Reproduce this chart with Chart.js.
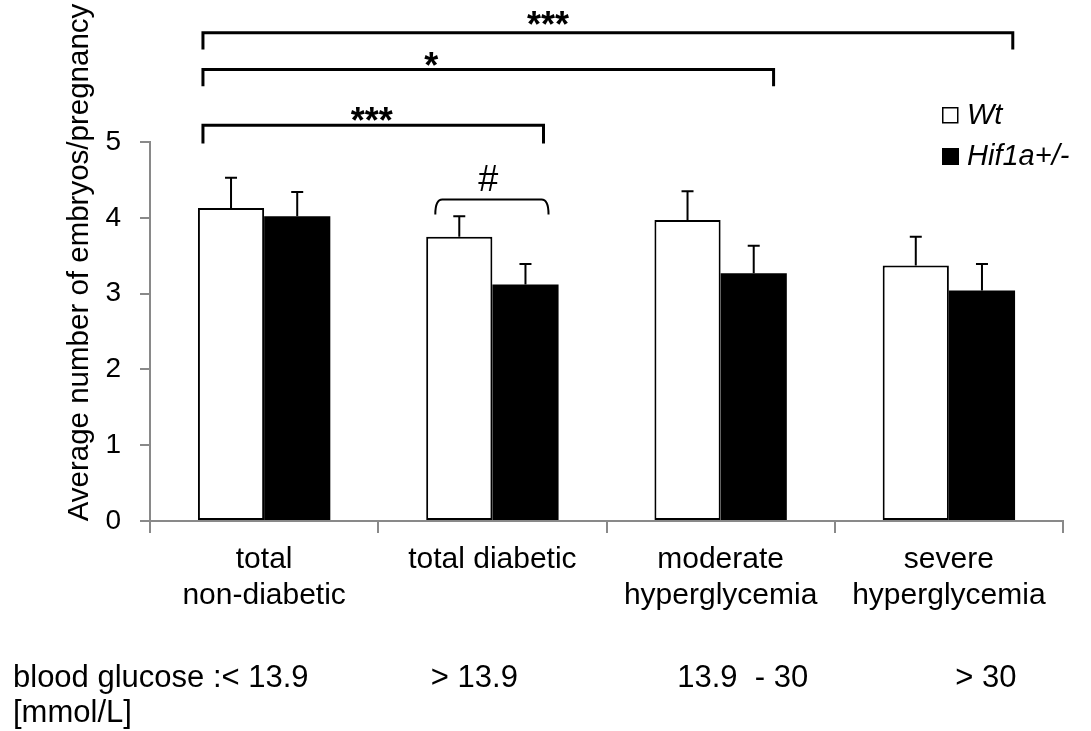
<!DOCTYPE html>
<html>
<head>
<meta charset="utf-8">
<script src="https://cdn.jsdelivr.net/npm/chart.js@4.4.0/dist/chart.umd.min.js"></script>
<style>
  html, body { margin: 0; padding: 0; background: #fff; }
</style>
</head>
<body>
<canvas id="barChart" width="1091" height="731"></canvas>
<script>
const categories = [['total', 'non-diabetic'], 'total diabetic', ['moderate', 'hyperglycemia'], ['severe', 'hyperglycemia']];
const seriesNames = ['Wt', 'Hif1a+/-'];
const wtMeans = [4.13, 3.75, 3.97, 3.37];
const wtErrors = [0.40, 0.27, 0.38, 0.38];
const hifMeans = [4.02, 3.12, 3.27, 3.04];
const hifErrors = [0.32, 0.27, 0.36, 0.35];
const yTicks = [0, 1, 2, 3, 4, 5];
const yTitle = 'Average number of embryos/pregnancy';
const glucoseLabels = ['blood glucose :< 13.9', '> 13.9', '13.9  - 30', '> 30'];
const glucoseUnit = '[mmol/L]';
// significance between groups (category index from -> to)
const brackets = [
  { from: 0, to: 3, label: '***' },
  { from: 0, to: 2, label: '*' },
  { from: 0, to: 1, label: '***' }
];
const withinMark = { category: 1, label: '#' };

const FONT = "'Liberation Sans', Arial, Helvetica, sans-serif";
const AXIS_GREY = '#898989';

// bracket drawing styles (level in y units, ends as fraction of category width)
const bracketStyle = [
  { level: 6.44, drop: 0.22, left: -0.268, right: 0.28, textAt: 0.426, textLevel: 6.66 },
  { level: 5.955, drop: 0.22, left: -0.268, right: 0.232, textAt: 0.40, textLevel: 6.12 },
  { level: 5.22, drop: 0.24, left: -0.268, right: 0.224, textAt: 0.496, textLevel: 5.40 }
];

const extras = {
  id: 'extras',
  afterDatasetsDraw(chart) {
    const ctx = chart.ctx;
    const y = chart.scales.y;
    ctx.save();
    ctx.strokeStyle = '#000';
    ctx.lineWidth = 2;
    [wtErrors, hifErrors].forEach((errs, di) => {
      const meta = chart.getDatasetMeta(di);
      meta.data.forEach((bar, i) => {
        const v = chart.data.datasets[di].data[i];
        const yTop = y.getPixelForValue(v + errs[i]);
        ctx.beginPath();
        ctx.moveTo(bar.x, bar.y);
        ctx.lineTo(bar.x, yTop);
        ctx.moveTo(bar.x - 6, yTop);
        ctx.lineTo(bar.x + 6, yTop);
        ctx.stroke();
      });
    });
    ctx.restore();
  },
  afterDraw(chart) {
    const ctx = chart.ctx;
    const x = chart.scales.x, y = chart.scales.y;
    const area = chart.chartArea;
    const cw = x.getPixelForValue(1) - x.getPixelForValue(0);
    ctx.save();
    ctx.fillStyle = '#000';
    ctx.strokeStyle = '#000';

    // y axis title, sits higher than the axis centre
    ctx.save();
    ctx.translate(80, y.getPixelForValue(3.41));
    ctx.rotate(-Math.PI / 2);
    ctx.font = '29.5px ' + FONT;
    ctx.textAlign = 'center';
    ctx.textBaseline = 'middle';
    ctx.fillText(yTitle, 0, 0);
    ctx.restore();

    // brackets
    brackets.forEach((b, i) => {
      const s = bracketStyle[i];
      const xl = x.getPixelForValue(b.from) + s.left * cw;
      const xr = x.getPixelForValue(b.to) + s.right * cw;
      const yl = y.getPixelForValue(s.level);
      const yd = y.getPixelForValue(s.level - s.drop);
      ctx.lineWidth = 3;
      ctx.beginPath();
      ctx.moveTo(xl, yd);
      ctx.lineTo(xl, yl);
      ctx.lineTo(xr, yl);
      ctx.lineTo(xr, yd);
      ctx.stroke();
      ctx.font = 'bold 36px ' + FONT;
      ctx.textAlign = 'center';
      ctx.textBaseline = 'alphabetic';
      ctx.fillText(b.label, xl + (xr - xl) * s.textAt, y.getPixelForValue(s.textLevel) + 21);
    });

    // within-group mark
    const cx = x.getPixelForValue(withinMark.category);
    const hl = cx - 0.25 * cw, hr = cx + 0.246 * cw;
    const ht = y.getPixelForValue(4.24), hb = y.getPixelForValue(4.045);
    ctx.lineWidth = 2;
    ctx.beginPath();
    ctx.moveTo(hl, hb);
    ctx.quadraticCurveTo(hl, ht, hl + 7, ht);
    ctx.lineTo(hr - 7, ht);
    ctx.quadraticCurveTo(hr, ht, hr, hb);
    ctx.stroke();
    ctx.font = '36px ' + FONT;
    ctx.textAlign = 'center';
    ctx.textBaseline = 'middle';
    ctx.fillText(withinMark.label, cx - 4, y.getPixelForValue(4.49));

    // legend
    const lx = area.right - 121;
    ctx.lineWidth = 1.5;
    ctx.strokeRect(lx + 0.75, 107.75, 15, 15);
    ctx.fillRect(lx, 148, 17, 17);
    ctx.font = 'italic 29px ' + FONT;
    ctx.textAlign = 'left';
    ctx.textBaseline = 'middle';
    ctx.fillText(seriesNames[0], lx + 25, 116);
    ctx.fillText(seriesNames[1], lx + 25, 157);

    // blood glucose row
    ctx.font = '31px ' + FONT;
    ctx.textBaseline = 'alphabetic';
    ctx.textAlign = 'left';
    ctx.fillText(glucoseLabels[0], 13, 687);
    ctx.fillText(glucoseUnit, 13, 722);
    const offs = [0, -0.079, 0.097, 0.162];
    ctx.textAlign = 'center';
    for (let i = 1; i < glucoseLabels.length; i++) {
      ctx.fillText(glucoseLabels[i], x.getPixelForValue(i) + offs[i] * cw, 687);
    }
    ctx.restore();
  }
};

const ctx = document.getElementById('barChart').getContext('2d');
new Chart(ctx, {
  type: 'bar',
  data: {
    labels: categories,
    datasets: [{
      label: seriesNames[0],
      data: wtMeans,
      backgroundColor: '#ffffff',
      borderColor: '#000000',
      borderWidth: 2,
      borderSkipped: false,
      categoryPercentage: 0.58,
      barPercentage: 1.0
    }, {
      label: seriesNames[1],
      data: hifMeans,
      backgroundColor: '#000000',
      borderWidth: 0,
      categoryPercentage: 0.58,
      barPercentage: 1.0
    }]
  },
  options: {
    responsive: false,
    animation: false,
    devicePixelRatio: 1,
    layout: { padding: { left: 0, right: 28, top: 142, bottom: 120 } },
    plugins: {
      legend: { display: false },
      tooltip: { enabled: false }
    },
    scales: {
      x: {
        grid: { display: true, drawOnChartArea: false, drawTicks: true, tickLength: 12, color: AXIS_GREY, lineWidth: 2, offset: true },
        border: { display: true, color: AXIS_GREY, width: 2 },
        ticks: { color: '#000', font: { family: FONT, size: 30, lineHeight: 1.22 }, padding: 8, maxRotation: 0, autoSkip: false },
        afterFit: s => { s.height = 90; }
      },
      y: {
        min: 0,
        max: 5,
        afterBuildTicks: s => { s.ticks = yTicks.map(v => ({ value: v })); },
        grid: { display: true, drawOnChartArea: false, drawTicks: true, tickLength: 10, color: AXIS_GREY, lineWidth: 2 },
        border: { display: true, color: AXIS_GREY, width: 2 },
        ticks: { color: '#000', font: { family: FONT, size: 28 }, padding: 19 },
        title: { display: false },
        afterFit: s => { s.width = 150; }
      }
    }
  },
  plugins: [extras]
});
</script>
</body>
</html>
